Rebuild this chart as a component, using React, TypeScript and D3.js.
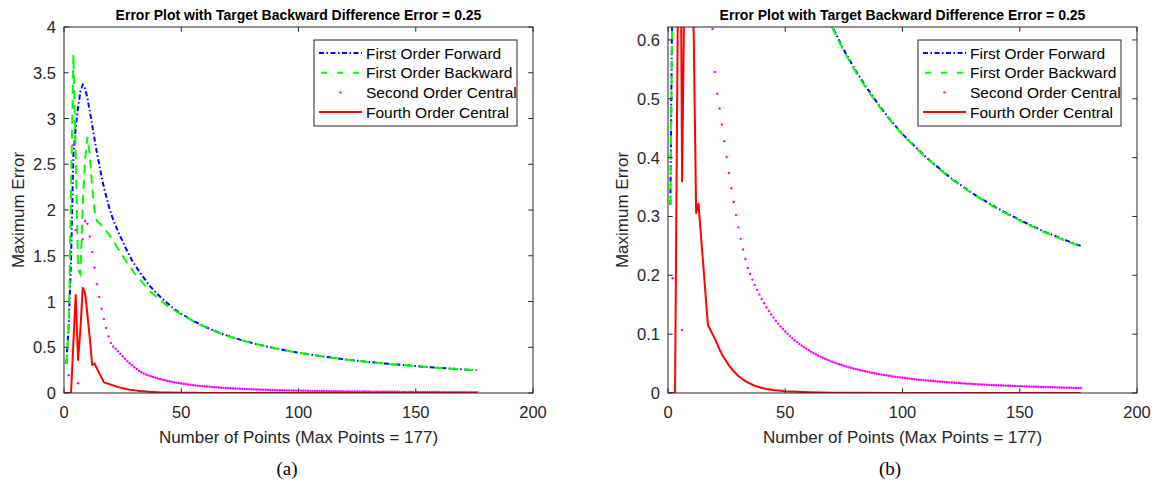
import React from 'react';
import * as d3 from 'd3';

// Maximum error versus number of grid points, [n, error]
const firstOrderForward: [number, number][] = [
  [1, 0.32], [2, 0.75], [3, 1.45], [4, 2.6], [5, 2.9], [6, 3.12], [7, 3.3], [8, 3.37], [9, 3.33], [10, 3.22],
  [11, 3.08], [12, 2.93], [13, 2.78], [14, 2.63], [15, 2.5], [16, 2.37], [17, 2.25], [18, 2.15], [19, 2.05], [20, 1.97],
  [21, 1.89], [22, 1.83], [23, 1.77], [24, 1.71], [25, 1.66], [26, 1.6], [27, 1.55], [28, 1.5], [29, 1.45], [30, 1.41],
  [32, 1.33], [34, 1.26], [36, 1.19], [38, 1.13], [40, 1.077], [42, 1.03], [44, 0.983], [46, 0.94], [48, 0.9], [50, 0.867],
  [55, 0.789], [60, 0.725], [65, 0.671], [70, 0.623], [75, 0.583], [80, 0.548], [85, 0.517], [90, 0.489], [95, 0.463],
  [100, 0.44], [110, 0.401], [120, 0.367], [130, 0.339], [140, 0.315], [150, 0.294], [160, 0.275], [170, 0.259], [176, 0.25],
];

const firstOrderBackward: [number, number][] = [
  [1, 0.32], [2, 0.72], [3, 2.2], [4, 3.7], [5, 2.6], [6, 1.35], [7, 1.3], [8, 2.05], [9, 2.55], [10, 2.8],
  [11, 2.6], [12, 2.25], [13, 2.0], [14, 1.88], [15, 1.86], [16, 1.83], [17, 1.8], [18, 1.77], [19, 1.74], [20, 1.7],
  [21, 1.66], [22, 1.62], [23, 1.58], [24, 1.54], [25, 1.5], [26, 1.46], [27, 1.42], [28, 1.38], [29, 1.35], [30, 1.31],
  [32, 1.25], [34, 1.19], [36, 1.13], [38, 1.08], [40, 1.04], [42, 0.995], [44, 0.955], [46, 0.92], [48, 0.89], [50, 0.862],
  [55, 0.786], [60, 0.722], [65, 0.668], [70, 0.621], [75, 0.581], [80, 0.546], [85, 0.515], [90, 0.487], [95, 0.462],
  [100, 0.439], [110, 0.4], [120, 0.366], [130, 0.338], [140, 0.314], [150, 0.293], [160, 0.274], [170, 0.258], [176, 0.249],
];

// One value per point count n = 1..176 (null: off the scale)
const secondOrderCentral: (number | null)[] = [
  0, 0.195, null, 2.71, 1.78, 0.107, null, 1.68, 1.88, 1.85,
  1.71, 1.54, 1.37, 1.19, 1.05, 0.92, 0.81, 0.71, 0.6185, 0.5455,
  0.5086, 0.4836, 0.4564, 0.428, 0.401, 0.374, 0.348, 0.3245, 0.3025, 0.2815,
  0.262, 0.244, 0.2277, 0.2124, 0.2024, 0.1927, 0.1836, 0.1753, 0.1672, 0.1598,
  0.1525, 0.1457, 0.1395, 0.1336, 0.1281, 0.1228, 0.1179, 0.1132, 0.1087, 0.1045,
  0.1005, 0.0967, 0.0931, 0.0897, 0.0865, 0.0834, 0.0805, 0.0778, 0.0752, 0.0727,
  0.0703, 0.068, 0.0658, 0.0638, 0.0618, 0.0599, 0.0581, 0.0564, 0.0548, 0.0532,
  0.0517, 0.0503, 0.0489, 0.0476, 0.0463, 0.0451, 0.0439, 0.0428, 0.0417, 0.0407,
  0.0397, 0.0387, 0.0378, 0.0369, 0.036, 0.0352, 0.0344, 0.0336, 0.0328, 0.0321,
  0.0314, 0.0307, 0.03, 0.0294, 0.0288, 0.0282, 0.0276, 0.027, 0.0265, 0.026,
  0.0255, 0.025, 0.0245, 0.024, 0.0236, 0.0231, 0.0227, 0.0223, 0.0219, 0.0215,
  0.0211, 0.0207, 0.0203, 0.02, 0.0196, 0.0193, 0.019, 0.0186, 0.0183, 0.018,
  0.0178, 0.0175, 0.0172, 0.0169, 0.0166, 0.0164, 0.0161, 0.0159, 0.0156, 0.0154,
  0.0151, 0.0149, 0.0147, 0.0145, 0.0143, 0.0141, 0.0138, 0.0136, 0.0134, 0.0133,
  0.0131, 0.0129, 0.0127, 0.0126, 0.0124, 0.0122, 0.0121, 0.0119, 0.0117, 0.0116,
  0.0114, 0.0113, 0.0111, 0.011, 0.0108, 0.0107, 0.0106, 0.0104, 0.0103, 0.0102,
  0.0101, 0.01, 0.0098, 0.0097, 0.0096, 0.0095, 0.0094, 0.0093, 0.0091, 0.009,
  0.0089, 0.0088, 0.0087, 0.0086, 0.0085, 0.0084,
];

const fourthOrderCentral: [number, number][] = [
  [1, 0], [2, 0], [3, 0], [4, 0.55], [5, 1.07], [6, 0.36], [7, 0.7], [8, 1.15], [9, 1.09], [10, 0.85],
  [11, 0.6], [12, 0.306], [13, 0.322], [14, 0.27], [15, 0.22], [16, 0.168], [17, 0.116], [18, 0.108], [19, 0.1], [20, 0.092],
  [21, 0.083], [22, 0.074], [23, 0.066], [24, 0.059], [25, 0.053], [26, 0.047], [27, 0.042], [28, 0.037], [29, 0.033], [30, 0.029],
  [31, 0.026], [32, 0.023], [33, 0.02], [34, 0.018], [35, 0.016], [36, 0.014], [37, 0.012], [38, 0.011], [40, 0.0085], [42, 0.0068],
  [45, 0.005], [50, 0.003], [55, 0.002], [60, 0.0013], [70, 0.0006], [80, 0.0003], [100, 0.0001], [130, 0.00003], [176, 0.00001],
];

const seriesNames = ['First Order Forward', 'First Order Backward', 'Second Order Central', 'Fourth Order Central'];
const chartTitle = 'Error Plot with Target Backward Difference Error = 0.25';
const xLabel = 'Number of Points (Max Points = 177)';
const yLabel = 'Maximum Error';
const xTicks = [0, 50, 100, 150, 200];
const yTicksFull = [0, 0.5, 1, 1.5, 2, 2.5, 3, 3.5, 4];
const yTicksZoom = [0, 0.1, 0.2, 0.3, 0.4, 0.5, 0.6];
const captions = ['(a)', '(b)'];

const W = 1154;
const H = 483;
const TOP = 27;
const BOTTOM = 393;
const PW = 469;
const AXIS = '#262626';
const FONT = '"Liberation Sans", Arial, Helvetica, sans-serif';

const COLORS = ['#0000ff', '#00ff00', '#ff00ff', '#ff0000'];
const DASH_FWD = '5,2.5,1.5,2.5';
const DASH_BWD = '9,6';

type PanelProps = {
  id: string;
  left: number;
  yMax: number;
  yTicks: number[];
  caption: string;
  captionX: number;
};

function Panel({ id, left, yMax, yTicks, caption, captionX }: PanelProps) {
  const right = left + PW;
  const x = d3.scaleLinear().domain([0, 200]).range([left, right]);
  const y = d3.scaleLinear().domain([0, yMax]).range([BOTTOM, TOP]);
  const line = d3
    .line<[number, number]>()
    .x((d) => x(d[0]))
    .y((d) => y(d[1]));
  const dots = secondOrderCentral
    .map((v, i) => ({ n: i + 1, v }))
    .filter((d) => d.v !== null) as { n: number; v: number }[];
  const tickLen = 4.7;
  const midY = (TOP + BOTTOM) / 2;

  // legend box
  const lgX = left + 250;
  const lgY = 40;
  const lgW = 203;
  const lgH = 86;
  const rowY = (i: number) => 53 + i * 19.7;
  const sx0 = lgX + 5;
  const sx1 = lgX + 48;

  return (
    <g>
      <defs>
        <clipPath id={id}>
          <rect x={left} y={TOP} width={PW} height={BOTTOM - TOP} />
        </clipPath>
      </defs>
      <g clipPath={`url(#${id})`}>
        <path d={line(firstOrderForward) || ''} fill="none" stroke={COLORS[0]} strokeWidth={2} strokeDasharray={DASH_FWD} />
        <path d={line(firstOrderBackward) || ''} fill="none" stroke={COLORS[1]} strokeWidth={2} strokeDasharray={DASH_BWD} />
        {dots.map((d) => (
          <circle key={d.n} cx={x(d.n)} cy={y(d.v)} r={1.2} fill={COLORS[2]} />
        ))}
        <path d={line(fourthOrderCentral) || ''} fill="none" stroke={COLORS[3]} strokeWidth={2} strokeLinejoin="round" />
      </g>

      {/* box */}
      <rect x={left} y={TOP} width={PW} height={BOTTOM - TOP} fill="none" stroke={AXIS} strokeWidth={1} />

      {/* x ticks */}
      {xTicks.map((t) => (
        <g key={`x${t}`}>
          <line x1={x(t)} x2={x(t)} y1={BOTTOM} y2={BOTTOM - tickLen} stroke={AXIS} strokeWidth={1} />
          <line x1={x(t)} x2={x(t)} y1={TOP} y2={TOP + tickLen} stroke={AXIS} strokeWidth={1} />
          <text x={x(t)} y={418} textAnchor="middle" fontSize={16.5} fill={AXIS} fontFamily={FONT}>
            {t}
          </text>
        </g>
      ))}

      {/* y ticks */}
      {yTicks.map((t) => (
        <g key={`y${t}`}>
          <line x1={left} x2={left + tickLen} y1={y(t)} y2={y(t)} stroke={AXIS} strokeWidth={1} />
          <line x1={right} x2={right - tickLen} y1={y(t)} y2={y(t)} stroke={AXIS} strokeWidth={1} />
          <text x={left - 8} y={y(t) + 6} textAnchor="end" fontSize={16.5} fill={AXIS} fontFamily={FONT}>
            {t}
          </text>
        </g>
      ))}

      <text x={(left + right) / 2} y={20} textAnchor="middle" fontSize={14} fontWeight="bold" fill="#000" fontFamily={FONT}>
        {chartTitle}
      </text>
      <text x={(left + right) / 2} y={443} textAnchor="middle" fontSize={17} fill={AXIS} fontFamily={FONT}>
        {xLabel}
      </text>
      <text
        transform={`translate(${left - 40},${midY}) rotate(-90)`}
        textAnchor="middle"
        fontSize={17}
        fill={AXIS}
        fontFamily={FONT}
      >
        {yLabel}
      </text>

      {/* legend */}
      <rect x={lgX} y={lgY} width={lgW} height={lgH} fill="#fff" stroke={AXIS} strokeWidth={1} />
      <line x1={sx0} x2={sx1} y1={rowY(0)} y2={rowY(0)} stroke={COLORS[0]} strokeWidth={2} strokeDasharray={DASH_FWD} />
      <line x1={sx0} x2={sx1} y1={rowY(1)} y2={rowY(1)} stroke={COLORS[1]} strokeWidth={2} strokeDasharray="6,10" strokeDashoffset={-2} />
      <circle cx={(sx0 + sx1) / 2} cy={rowY(2)} r={1.2} fill={COLORS[2]} />
      <line x1={sx0} x2={sx1} y1={rowY(3)} y2={rowY(3)} stroke={COLORS[3]} strokeWidth={2} />
      {seriesNames.map((s, i) => (
        <text key={s} x={sx1 + 4} y={rowY(i) + 5.5} fontSize={15.5} fill="#000" fontFamily={FONT}>
          {s}
        </text>
      ))}

      <text x={captionX} y={475} textAnchor="middle" fontSize={19} fill="#000" fontFamily='"Liberation Serif", "Times New Roman", serif'>
        {caption}
      </text>
    </g>
  );
}

export default function App() {
  return (
    <svg
      width={W}
      height={H}
      viewBox={`0 0 ${W} ${H}`}
      style={{ position: 'absolute', left: 0, top: 0, background: '#fff' }}
    >
      <rect width={W} height={H} fill="#fff" />
      <Panel id="clipA" left={64} yMax={4} yTicks={yTicksFull} caption={captions[0]} captionX={287} />
      <Panel id="clipB" left={668} yMax={0.622} yTicks={yTicksZoom} caption={captions[1]} captionX={890} />
    </svg>
  );
}
